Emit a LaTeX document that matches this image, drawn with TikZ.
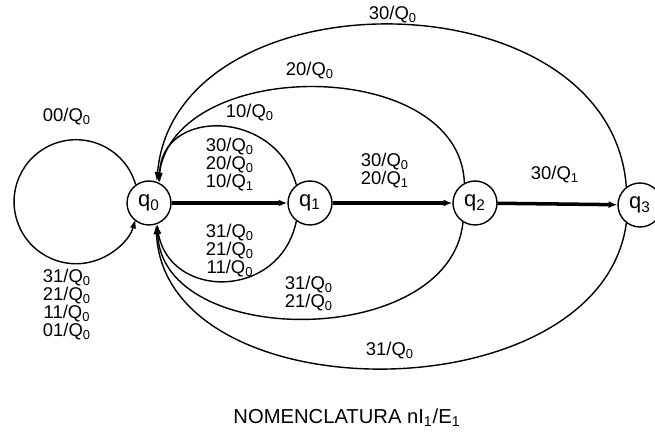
\documentclass[tikz,border=0pt]{standalone}
\usepackage{fontspec}
\setmainfont{Liberation Sans}
\usetikzlibrary{arrows.meta}
\newcommand{\Qzero}{Q\textsubscript{0}}
\newcommand{\Qone}{Q\textsubscript{1}}

\begin{document}
\begin{tikzpicture}[x=0.02cm, y=0.02cm, font=\fontsize{10.5}{10.2}\selectfont,
   st/.style={draw, circle, thick, minimum size=0.88cm, inner sep=0pt, font=\fontsize{12.5}{12}\selectfont},
   lb/.style={align=center, inner sep=1pt},
   main/.style={-{Latex[length=5pt,width=4pt]}, line width=2pt},
   ret/.style={-{Latex[length=5.5pt,width=3.5pt]}, line width=0.8pt}]
  \useasboundingbox (0,0) rectangle (655,436);
  \node[st] (q0) at (149,233) {q\textsubscript{0}};
  \node[st] (q1) at (310,233) {q\textsubscript{1}};
  \node[st] (q2) at (475,233) {q\textsubscript{2}};
  \node[st] (q3) at (640,231) {q\textsubscript{3}};
  \draw[main] (q0) -- (q1);
  \draw[main] (q1) -- (q2);
  \draw[main] (q2) -- (q3);
  % self loop
  \draw[ret] (q0.126) arc[start angle=16, end angle=344, radius=62];
  % upper returns
  \draw[ret] (q1.127) .. controls (275,328) and (160,328) .. (q0.62);
  \draw[ret] (q2.118) .. controls (460,380) and (175,380) .. (q0.66);
  \draw[ret] (q3.127) .. controls (610,464) and (175,464) .. (q0.70);
  % lower returns
  \draw[ret] (q1.233) .. controls (280,136) and (170,136) .. (q0.-70);
  \draw[ret] (q2.238) .. controls (450,86) and (160,86) .. (q0.-68);
  \draw[ret] (q3.233) .. controls (600,20) and (165,20) .. (q0.-72);
  % labels
  \node[lb] (l00) at (67,319) {00/\Qzero};
  \node[lb] (lloop) at (67,131.5) {31/\Qzero\\21/\Qzero\\11/\Qzero\\01/\Qzero};
  \node[lb] (lu3) at (393,421) {30/\Qzero};
  \node[lb] (lu2) at (310,365) {20/\Qzero};
  \node[lb] (lu1) at (250,323) {10/\Qzero};
  \node[lb] (l01) at (230,271.5) {30/\Qzero\\20/\Qzero\\10/\Qone};
  \node[lb] (l12) at (385,265) {30/\Qzero\\20/\Qone};
  \node[lb] (l23) at (555,261) {30/\Qone};
  \node[lb] (ld1) at (230,185.5) {31/\Qzero\\21/\Qzero\\11/\Qzero};
  \node[lb] (ld2) at (309,142) {31/\Qzero\\21/\Qzero};
  \node[lb] (ld3) at (390,85) {31/\Qzero};
  \node[font=\fontsize{11.5}{12}\selectfont] (cap) at (347,18) {NOMENCLATURA nI\textsubscript{1}/E\textsubscript{1}};
\end{tikzpicture}
\end{document}
